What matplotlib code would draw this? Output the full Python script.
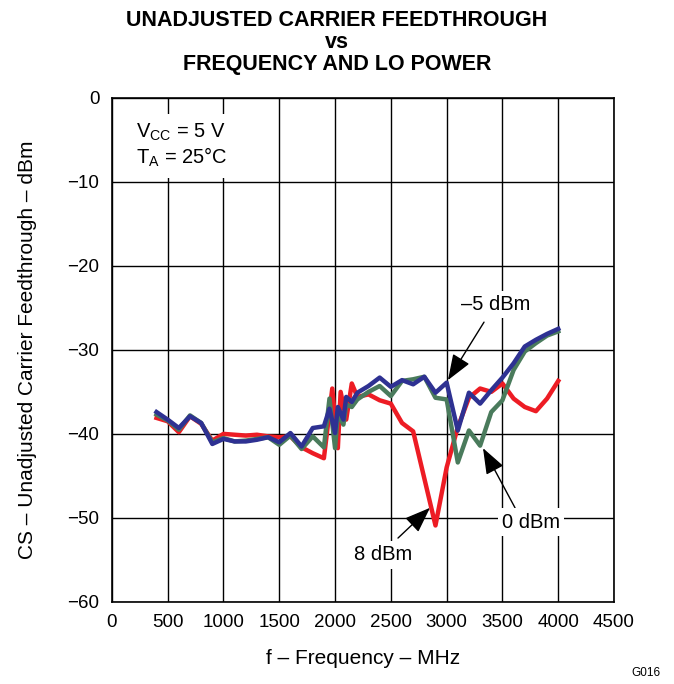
import matplotlib
matplotlib.use("Agg")
from matplotlib import pyplot as plt

plt.rcParams['font.family'] = ['Liberation Sans', 'DejaVu Sans']
plt.rcParams['mathtext.default'] = 'regular'

# LO = 8 dBm (red)
freq_8 = [400, 500, 600, 700, 800, 900, 1000, 1100, 1200, 1300, 1400, 1500, 1600, 1700, 1800,
          1900, 1975, 2025, 2050, 2100, 2150, 2200,
          2300, 2400, 2500, 2600, 2700, 2800, 2900, 3000, 3100, 3200, 3300, 3400, 3500,
          3600, 3700, 3800, 3900, 4000]
cs_8 = [-38.1, -38.5, -39.8, -37.9, -38.8, -40.8, -40.0, -40.1, -40.2, -40.1, -40.3, -40.4, -40.3, -41.6, -42.3,
        -42.9, -34.6, -41.7, -35.0, -38.3, -34.0, -35.6,
        -35.3, -36.0, -36.4, -38.7, -39.7, -45.3, -50.9, -44.0, -39.2, -35.7, -34.6, -35.0, -34.0,
        -35.8, -36.8, -37.3, -35.8, -33.7]

# LO = 0 dBm (green)
freq_0 = [400, 500, 600, 700, 800, 900, 1000, 1100, 1200, 1300, 1400, 1500, 1600, 1700, 1800,
          1900, 1950, 2000, 2025, 2075, 2100, 2150, 2200,
          2300, 2400, 2500, 2600, 2700, 2800, 2900, 3000, 3100, 3200, 3300, 3400, 3500,
          3600, 3700, 3800, 3900, 4000]
cs_0 = [-37.7, -38.4, -39.5, -37.8, -38.7, -41.0, -40.5, -40.9, -40.8, -40.6, -40.4, -41.3, -40.2, -41.8, -40.3,
        -41.6, -35.8, -41.7, -37.5, -38.9, -36.5, -36.8, -35.9,
        -35.0, -34.3, -35.5, -33.7, -33.5, -33.2, -35.7, -35.9, -43.4, -39.6, -41.4, -37.4, -36.0,
        -32.4, -30.2, -29.2, -28.3, -27.8]

# LO = -5 dBm (blue)
freq_m5 = [400, 500, 600, 700, 800, 900, 1000, 1100, 1200, 1300, 1400, 1500, 1600, 1700, 1800,
           1900, 1950, 2000, 2025, 2075, 2100, 2150, 2200,
           2300, 2400, 2500, 2600, 2700, 2800, 2900, 3000, 3100, 3200, 3300, 3400, 3500,
           3600, 3700, 3800, 3900, 4000]
cs_m5 = [-37.4, -38.3, -39.3, -37.9, -38.7, -41.2, -40.6, -40.9, -40.9, -40.7, -40.4, -41.0, -39.9, -41.5, -39.3,
         -39.1, -37.0, -39.9, -36.8, -38.3, -35.6, -36.2, -35.1,
         -34.3, -33.3, -34.4, -33.6, -34.1, -33.2, -35.1, -33.9, -39.6, -35.1, -36.4, -34.8, -33.3,
         -31.6, -29.6, -28.8, -28.1, -27.5]

xticks = [0, 500, 1000, 1500, 2000, 2500, 3000, 3500, 4000, 4500]
yticks = [0, -10, -20, -30, -40, -50, -60]

fig = plt.figure(figsize=(6.74, 6.84), dpi=100)
ax = fig.add_axes([0.166, 0.120, 0.745, 0.737])

ax.plot(freq_8, cs_8, color="#ED1C24", lw=3.2, solid_joinstyle="round", zorder=3)
ax.plot(freq_0, cs_0, color="#4A7B5C", lw=3.2, solid_joinstyle="round", zorder=4)
ax.plot(freq_m5, cs_m5, color="#2E3192", lw=3.2, solid_joinstyle="round", zorder=5)

ax.set_xlim(0, 4500)
ax.set_ylim(-60, 0)
ax.set_xticks(xticks)
ax.set_yticks(yticks)
ax.set_yticklabels(["0", "\u221210", "\u221220", "\u221230", "\u221240", "\u221250", "\u221260"])
ax.tick_params(axis="x", length=0, labelsize=13.5, pad=9)
ax.tick_params(axis="y", length=0, labelsize=13.5, pad=9)
ax.grid(True, color="black", lw=1.0)
ax.set_axisbelow(True)
for s in ax.spines.values():
    s.set_linewidth(1.2)

ax.set_xlabel("f \u2013 Frequency \u2013 MHz", fontsize=15, labelpad=13)
ax.set_ylabel("CS \u2013 Unadjusted Carrier Feedthrough \u2013 dBm", fontsize=15, labelpad=22)

fig.text(0.5, 0.985, "UNADJUSTED CARRIER FEEDTHROUGH\nvs\nFREQUENCY AND LO POWER",
         ha="center", va="top", fontsize=15.5, fontweight="bold", linespacing=1.05)

ax.text(220, -2.9, "V$_{CC}$ = 5 V\nT$_{A}$ = 25\u00b0C", fontsize=14.5, va="top", ha="left",
        linespacing=1.15, zorder=6,
        bbox=dict(facecolor="white", edgecolor="none", pad=6))

arrow = dict(arrowstyle="-|>,head_length=1.6,head_width=0.6", color="black", lw=1,
             shrinkA=0, shrinkB=0)
box = dict(facecolor="white", edgecolor="none", pad=3)
ax.annotate("", xy=(3012, -33.6), xytext=(3335, -26.7), arrowprops=arrow, zorder=7)
ax.text(3442, -24.6, "\u20135 dBm", fontsize=14.5, ha="center", va="center", zorder=7, bbox=box)
ax.annotate("", xy=(3326, -41.7), xytext=(3613, -48.8), arrowprops=arrow, zorder=7)
ax.text(3756, -50.5, "0 dBm", fontsize=14.5, ha="center", va="center", zorder=7, bbox=box)
ax.annotate("", xy=(2851, -48.8), xytext=(2564, -52.4), arrowprops=arrow, zorder=7)
ax.text(2429, -54.4, "8 dBm", fontsize=14.5, ha="center", va="center", zorder=7, bbox=box)

fig.text(0.98, 0.008, "G016", fontsize=8.5, ha="right", va="bottom")

fig.savefig("out.png", dpi=100)
